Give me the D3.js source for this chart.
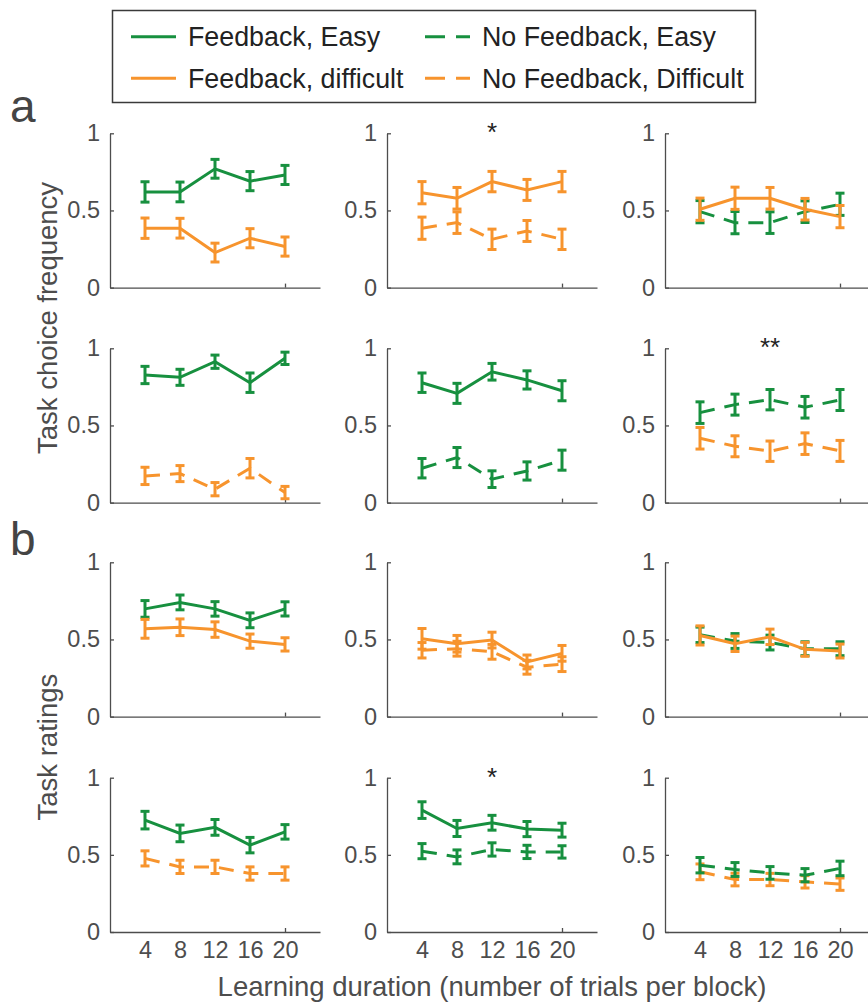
<!DOCTYPE html>
<meta charset="utf-8">
<style>

html, body {
  margin: 0;
  overflow: hidden;
  padding: 0;
  background: #fff;
}

svg {
  display: block;
  font-family: "Liberation Sans", Arial, Helvetica, sans-serif;
}

.axis path,
.axis line {
  stroke: #4d4d4d;
  stroke-width: 1.3px;
}

.axis text {
  fill: #4d4d4d;
  font-size: 23.5px;
}

.title {
  fill: #4d4d4d;
  font-size: 27.5px;
}

</style>
<svg width="868" height="1002"></svg>
<script src="https://cdn.jsdelivr.net/npm/d3@7/dist/d3.min.js"></script>
<script>

var durations = [4, 8, 12, 16, 20];
var yTicks = [0, 0.5, 1];
var xMarkTick = [20];

// a, task choice frequency
var r1c1FE = [0.62, 0.62, 0.77, 0.69, 0.73], r1c1FEerr = [0.066, 0.064, 0.061, 0.062, 0.062];
var r1c1FD = [0.385, 0.385, 0.227, 0.32, 0.266], r1c1FDerr = [0.066, 0.064, 0.061, 0.062, 0.062];
var r1c2FD = [0.615, 0.579, 0.687, 0.633, 0.687], r1c2FDerr = [0.072, 0.07, 0.066, 0.068, 0.066];
var r1c2ND = [0.385, 0.421, 0.313, 0.367, 0.313], r1c2NDerr = [0.072, 0.07, 0.066, 0.068, 0.066];
var r1c3FD = [0.508, 0.579, 0.579, 0.508, 0.46], r1c3FDerr = [0.072, 0.072, 0.07, 0.07, 0.072];
var r1c3NE = [0.492, 0.421, 0.421, 0.492, 0.54], r1c3NEerr = [0.072, 0.072, 0.07, 0.07, 0.072];
var r2c1FE = [0.827, 0.812, 0.913, 0.777, 0.935], r2c1FEerr = [0.056, 0.052, 0.043, 0.063, 0.04];
var r2c1ND = [0.173, 0.188, 0.087, 0.223, 0.065], r2c1NDerr = [0.056, 0.052, 0.043, 0.063, 0.04];
var r2c2FE = [0.777, 0.708, 0.848, 0.795, 0.725], r2c2FEerr = [0.063, 0.065, 0.054, 0.059, 0.065];
var r2c2NE = [0.223, 0.292, 0.152, 0.205, 0.275], r2c2NEerr = [0.063, 0.065, 0.054, 0.059, 0.065];
var r2c3NE = [0.583, 0.635, 0.667, 0.618, 0.665], r2c3NEerr = [0.07, 0.068, 0.066, 0.07, 0.068];
var r2c3ND = [0.417, 0.365, 0.333, 0.382, 0.335], r2c3NDerr = [0.07, 0.068, 0.066, 0.07, 0.068];

// b, task ratings
var r3c1FE = [0.698, 0.74, 0.698, 0.624, 0.698], r3c1FEerr = [0.054, 0.048, 0.047, 0.048, 0.046];
var r3c1FD = [0.569, 0.579, 0.564, 0.489, 0.468], r3c1FDerr = [0.061, 0.054, 0.05, 0.046, 0.043];
var r3c2FD = [0.504, 0.472, 0.496, 0.354, 0.41], r3c2FDerr = [0.067, 0.054, 0.051, 0.045, 0.051];
var r3c2ND = [0.43, 0.44, 0.42, 0.32, 0.34], r3c2NDerr = [0.05, 0.048, 0.048, 0.045, 0.048];
var r3c3FD = [0.526, 0.472, 0.517, 0.436, 0.425], r3c3FDerr = [0.062, 0.05, 0.05, 0.045, 0.045];
var r3c3NE = [0.53, 0.49, 0.48, 0.44, 0.44], r3c3NEerr = [0.05, 0.048, 0.048, 0.045, 0.045];
var r4c1FE = [0.725, 0.639, 0.678, 0.563, 0.649], r4c1FEerr = [0.057, 0.054, 0.051, 0.05, 0.047];
var r4c1ND = [0.477, 0.422, 0.422, 0.379, 0.379], r4c1NDerr = [0.049, 0.043, 0.043, 0.043, 0.043];
var r4c2FE = [0.79, 0.671, 0.708, 0.667, 0.66], r4c2FEerr = [0.054, 0.052, 0.048, 0.049, 0.045];
var r4c2NE = [0.524, 0.487, 0.535, 0.519, 0.519], r4c2NEerr = [0.049, 0.045, 0.043, 0.043, 0.04];
var r4c3NE = [0.433, 0.405, 0.383, 0.368, 0.412], r4c3NEerr = [0.05, 0.045, 0.041, 0.043, 0.047];
var r4c3ND = [0.39, 0.34, 0.34, 0.325, 0.31], r4c3NDerr = [0.051, 0.041, 0.04, 0.04, 0.04];

var stars = ["", "*", "", "", "", "**", "", "", "", "", "*", ""];

var legendLabels = {
  FE: "Feedback, Easy",
  NE: "No Feedback, Easy",
  FD: "Feedback, difficult",
  ND: "No Feedback, Difficult"
};

var green = "#17903f", orange = "#f7942d";
var styles = {
  ND: { color: orange, dash: "15 10", order: 0 },
  NE: { color: green, dash: "15 10", order: 1 },
  FE: { color: green, dash: null, order: 2 },
  FD: { color: orange, dash: null, order: 3 }
};

var panels = [
  [["FE", r1c1FE, r1c1FEerr], ["FD", r1c1FD, r1c1FDerr]],
  [["FD", r1c2FD, r1c2FDerr], ["ND", r1c2ND, r1c2NDerr]],
  [["FD", r1c3FD, r1c3FDerr], ["NE", r1c3NE, r1c3NEerr]],
  [["FE", r2c1FE, r2c1FEerr], ["ND", r2c1ND, r2c1NDerr]],
  [["FE", r2c2FE, r2c2FEerr], ["NE", r2c2NE, r2c2NEerr]],
  [["NE", r2c3NE, r2c3NEerr], ["ND", r2c3ND, r2c3NDerr]],
  [["FE", r3c1FE, r3c1FEerr], ["FD", r3c1FD, r3c1FDerr]],
  [["FD", r3c2FD, r3c2FDerr], ["ND", r3c2ND, r3c2NDerr]],
  [["FD", r3c3FD, r3c3FDerr], ["NE", r3c3NE, r3c3NEerr]],
  [["FE", r4c1FE, r4c1FEerr], ["ND", r4c1ND, r4c1NDerr]],
  [["FE", r4c2FE, r4c2FEerr], ["NE", r4c2NE, r4c2NEerr]],
  [["NE", r4c3NE, r4c3NEerr], ["ND", r4c3ND, r4c3NDerr]]
];

var svg = d3.select("svg");

var colLeft = [110, 387, 665];
var rowTop = [133.3, 348.3, 562.3, 777.7];
var plotW = 210, plotH = 154.3;

var x = d3.scaleLinear().domain([0, 24]).range([0, plotW]);
var y = d3.scaleLinear().domain([0, 1]).range([plotH, 0]);

var line = d3.line()
    .x(function(d) { return x(d[0]); })
    .y(function(d) { return y(d[1]); });

panels.forEach(function(series, i) {
  var row = Math.floor(i / 3), col = i % 3;
  var g = svg.append("g")
      .attr("transform", "translate(" + colLeft[col] + "," + rowTop[row] + ")");

  g.append("g")
      .attr("class", "axis")
      .call(d3.axisLeft(y).tickValues(yTicks).tickSizeInner(-4).tickSizeOuter(0)
        .tickPadding(10).tickFormat(function(d) { return String(d); }));

  g.append("g")
      .attr("class", "axis")
      .attr("transform", "translate(0," + plotH + ")")
      .call(d3.axisBottom(x).tickValues(xMarkTick).tickSizeInner(-4).tickSizeOuter(0).tickFormat(""));

  if (row === 3) {
    var lab = g.append("g")
        .attr("class", "axis")
        .attr("transform", "translate(0," + plotH + ")")
        .call(d3.axisBottom(x).tickValues(durations).tickSize(0).tickPadding(9));
    lab.select(".domain").remove();
  }

  series.slice().sort(function(a, b) { return styles[a[0]].order - styles[b[0]].order; })
    .forEach(function(s) {
      var st = styles[s[0]];
      var pts = durations.map(function(d, k) { return [d, s[1][k], s[2][k]]; });
      var sg = g.append("g").attr("stroke", st.color).attr("fill", "none");

      sg.append("path")
          .attr("d", line(pts))
          .attr("stroke-width", 3)
          .attr("stroke-dasharray", st.dash);

      var eb = sg.selectAll(".eb").data(pts).enter().append("g")
          .attr("stroke-width", 3);
      eb.append("line")
          .attr("x1", function(d) { return x(d[0]); })
          .attr("x2", function(d) { return x(d[0]); })
          .attr("y1", function(d) { return y(d[1] - d[2]); })
          .attr("y2", function(d) { return y(d[1] + d[2]); });
      eb.append("line")
          .attr("x1", function(d) { return x(d[0]) - 4.5; })
          .attr("x2", function(d) { return x(d[0]) + 4.5; })
          .attr("y1", function(d) { return y(d[1] - d[2]); })
          .attr("y2", function(d) { return y(d[1] - d[2]); });
      eb.append("line")
          .attr("x1", function(d) { return x(d[0]) - 4.5; })
          .attr("x2", function(d) { return x(d[0]) + 4.5; })
          .attr("y1", function(d) { return y(d[1] + d[2]); })
          .attr("y2", function(d) { return y(d[1] + d[2]); });
    });

  if (stars[i]) {
    g.append("text")
        .attr("x", x(12))
        .attr("y", y(1) + 8)
        .attr("text-anchor", "middle")
        .attr("fill", "#222")
        .style("font-size", "26px")
        .text(stars[i]);
  }
});

// axis titles
svg.append("text")
    .attr("class", "title")
    .attr("transform", "translate(57," + (rowTop[0] + rowTop[1] + plotH) / 2 + ") rotate(-90)")
    .attr("text-anchor", "middle")
    .text("Task choice frequency");

svg.append("text")
    .attr("class", "title")
    .attr("transform", "translate(57," + (rowTop[2] + rowTop[3] + plotH) / 2 + ") rotate(-90)")
    .attr("text-anchor", "middle")
    .text("Task ratings");

svg.append("text")
    .attr("class", "title")
    .attr("x", colLeft[1] + plotW / 2)
    .attr("y", 996)
    .attr("text-anchor", "middle")
    .text("Learning duration (number of trials per block)");

// panel letters
svg.append("text").attr("x", 10).attr("y", 122)
    .attr("fill", "#444").style("font-size", "46px").text("a");
svg.append("text").attr("x", 10).attr("y", 555)
    .attr("fill", "#444").style("font-size", "46px").text("b");

// legend
var legend = svg.append("g");
legend.append("rect")
    .attr("x", 112.5).attr("y", 10.5)
    .attr("width", 643).attr("height", 92)
    .attr("fill", "#fff")
    .attr("stroke", "#3a3a3a")
    .attr("stroke-width", 1.5);

var legendRows = [["FE", "NE"], ["FD", "ND"]];
var legendX = [131, 425], legendY = [36.7, 78.3];

legendRows.forEach(function(keys, r) {
  keys.forEach(function(key, c) {
    var st = styles[key];
    legend.append("line")
        .attr("x1", legendX[c]).attr("x2", legendX[c] + 45)
        .attr("y1", legendY[r]).attr("y2", legendY[r])
        .attr("stroke", st.color)
        .attr("stroke-width", 3)
        .attr("stroke-dasharray", st.dash ? "20 11" : null);
    legend.append("text")
        .attr("x", legendX[c] + 57)
        .attr("y", legendY[r] + 9.5)
        .attr("fill", "#222")
        .style("font-size", "26.8px")
        .text(legendLabels[key]);
  });
});

</script>
